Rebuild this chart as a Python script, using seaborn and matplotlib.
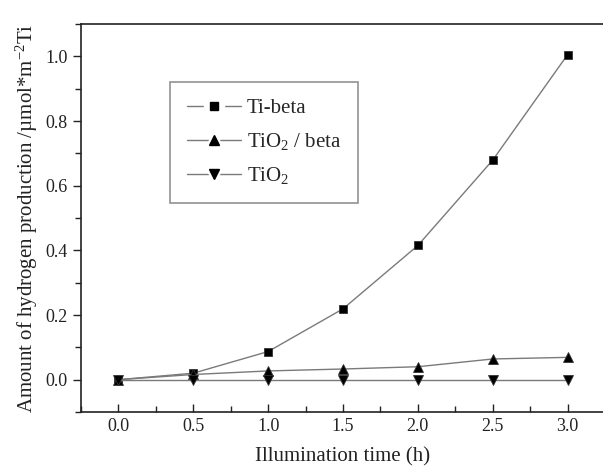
import matplotlib
matplotlib.use("Agg")
import matplotlib.pyplot as plt
import seaborn as sns
import pandas as pd
from matplotlib.ticker import MultipleLocator
from matplotlib.lines import Line2D
from matplotlib.legend_handler import HandlerTuple

time_h = [0.0, 0.5, 1.0, 1.5, 2.0, 2.5, 3.0]
ti_beta = [0.0, 0.02, 0.087, 0.219, 0.415, 0.679, 1.005]
tio2_beta = [0.0, 0.016, 0.027, 0.033, 0.040, 0.064, 0.069]
tio2 = [0.0, 0.0, 0.0, 0.0, 0.0, 0.0, 0.0]
series_names = ["Ti-beta", "TiO$_2$ / beta", "TiO$_2$"]
markers = ["s", "^", "v"]

sns.set_style("ticks")
plt.rcParams["font.family"] = ["Liberation Serif", "DejaVu Serif"]
plt.rcParams["mathtext.fontset"] = "custom"
plt.rcParams["mathtext.rm"] = "Liberation Serif"
plt.rcParams["mathtext.it"] = "Liberation Serif:italic"

df = pd.DataFrame({
    "time": time_h * 3,
    "value": ti_beta + tio2_beta + tio2,
    "series": sum([[n] * len(time_h) for n in series_names], []),
})

LINE = "#7a7a7a"
fig = plt.figure(figsize=(6.03, 4.72), dpi=100)
ax = fig.add_axes([81 / 603, 1 - 412 / 472, (605 - 81) / 603, (412 - 24) / 472])

for name, mk in zip(series_names, markers):
    sub = df[df["series"] == name]
    sns.lineplot(data=sub, x="time", y="value", ax=ax, color=LINE, lw=1.0,
                 marker=mk, markersize=6.3 if mk == "s" else 7, markerfacecolor="black",
                 markeredgecolor="#333333", markeredgewidth=0.6, legend=False)

ax.set_xlim(-0.25, 3.25)
ax.set_ylim(-0.1, 1.1)
ax.xaxis.set_minor_locator(MultipleLocator(0.25))
ax.yaxis.set_minor_locator(MultipleLocator(0.1))
ax.set_yticks([0.0, 0.2, 0.4, 0.6, 0.8, 1.0])
ax.set_yticklabels([f"{v:.1f}" for v in [0.0, 0.2, 0.4, 0.6, 0.8, 1.0]])
ax.set_xticks(time_h)
ax.set_xticklabels([f"{v:.1f}" for v in time_h])
ax.tick_params(axis="x", which="both", direction="in", labelsize=13, pad=4, colors="#222222")
ax.tick_params(axis="x", which="major", length=6, width=1)
ax.tick_params(axis="x", which="minor", length=4, width=1)
ax.tick_params(axis="y", which="both", direction="out", labelsize=13, colors="#222222")
ax.tick_params(axis="y", which="major", length=6, width=1)
ax.tick_params(axis="y", which="minor", length=4, width=1)
for s in ax.spines.values():
    s.set_linewidth(1.2)
    s.set_color("#222222")

ax.set_xlabel("Illumination time (h)", fontsize=15, color="#222222", labelpad=9)
ax.set_ylabel("Amount of hydrogen production /\u00b5mol*m$^{-2}$Ti", fontsize=15,
              color="#222222", labelpad=4)

handles = []
for mk in markers:
    base = Line2D([], [], color=LINE, lw=1.0, marker=mk, markersize=14,
                  markerfacecolor="white", markeredgecolor="white")
    top = Line2D([], [], lw=0, marker=mk, markersize=6.3 if mk == "s" else 7,
                 markerfacecolor="black", markeredgecolor="black")
    handles.append((base, top))

leg = ax.legend(handles, series_names, handler_map={tuple: HandlerTuple(ndivide=1)},
                loc="upper left", bbox_to_anchor=((170 - 81) / 524, 1 - (82 - 24) / 388),
                frameon=True, fancybox=False, fontsize=15, handlelength=2.6,
                borderpad=0.8, labelspacing=0.62, handletextpad=0.3, borderaxespad=0)
leg.get_frame().set_edgecolor("#777777")
leg.get_frame().set_linewidth(1.2)

fig.savefig("out.png", dpi=100)
